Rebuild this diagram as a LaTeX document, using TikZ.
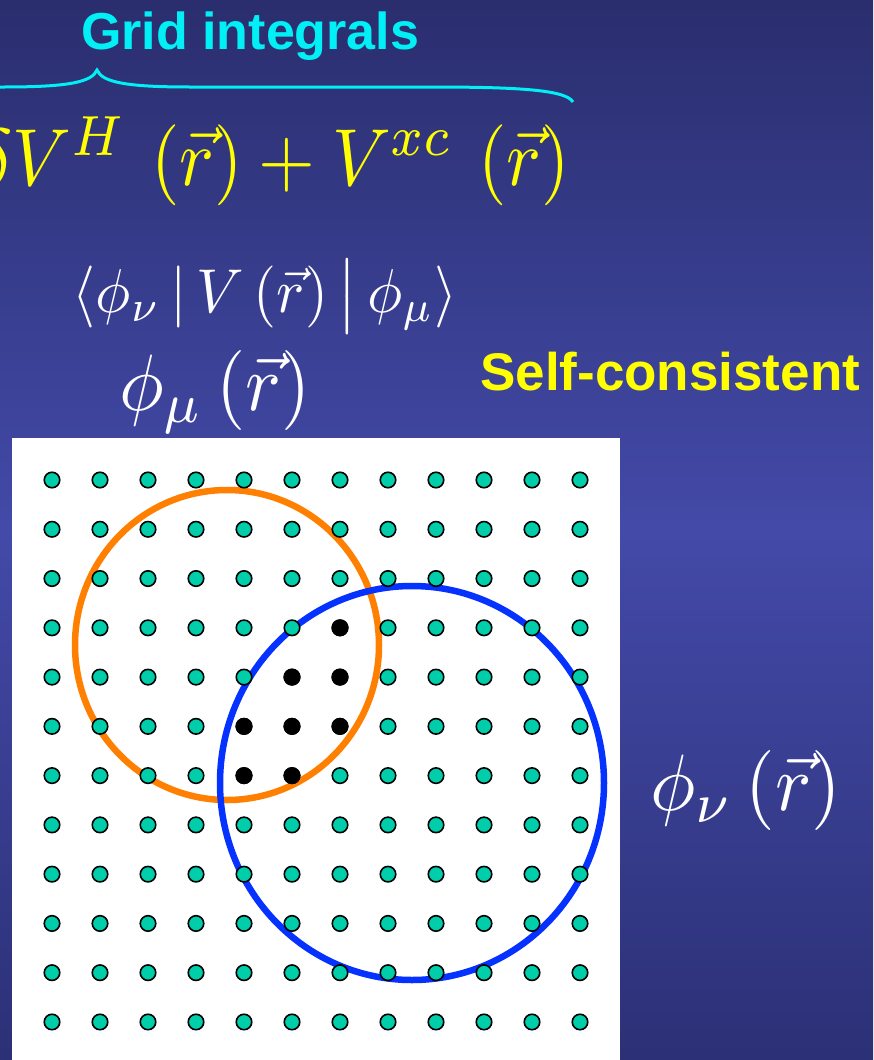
\documentclass[tikz,border=0pt]{standalone}
\usepackage{graphicx}
\usepackage{fontspec}
\setsansfont{Liberation Sans}
\definecolor{slidetop}{RGB}{42,46,110}
\definecolor{slidemid}{RGB}{67,74,168}
\definecolor{slidebot}{RGB}{44,48,118}
\definecolor{dotgreen}{RGB}{0,206,170}
\definecolor{ringorange}{RGB}{255,127,0}
\definecolor{ringblue}{RGB}{5,50,255}
\definecolor{headcyan}{RGB}{0,240,245}
\definecolor{headyellow}{RGB}{255,255,0}

\begin{document}
\begin{tikzpicture}[x=1pt,y=1pt,yscale=-1,xscale=1,
	gridpt/.style={circle,draw=black,line width=1.6,fill=dotgreen,minimum size=15.5pt,inner sep=0pt},
	hitpt/.style={circle,draw=black,line width=1.6,fill=black,minimum size=15.5pt,inner sep=0pt},
	headtext/.style={font=\sffamily\bfseries\fontsize{52}{60}\selectfont,inner sep=0pt},
	bigmath/.style={inner sep=0pt}]
	\useasboundingbox (0,0) rectangle (873,1060);
	\clip (0,0) rectangle (873,1060);
	
	%Shape: Background
	\shade [top color=slidetop,bottom color=slidebot,middle color=slidemid] (0,0) rectangle (873,1060);
	%Shape: Rectangle (grid panel)
	\fill [white] (12,438) rectangle (620,1060);
	
	%Shape: Circle (orange)
	\draw [color=ringorange,line width=6.5] (227,645) ellipse [x radius=152,y radius=155];
	%Shape: Circle (blue)
	\draw [color=ringblue,line width=6.5] (412,783) ellipse [x radius=192,y radius=197];
	
	%Grid points
	\foreach \i in {0,...,11}
		\foreach \j in {0,...,11}
			\node [gridpt] (p\i-\j) at ({52+48*\i},{480+49.27*\j}) {};
	%Points inside both rings
	\foreach \i/\j in {6/3,5/4,6/4,4/5,5/5,6/5,4/6,5/6}
		\node [hitpt] (q\i-\j) at (p\i-\j) {};
	
	%Brace
	\draw [color=headcyan,line width=3] (573,102) .. controls (566,90) and (520,87) .. (430,87) -- (190,87) .. controls (125,87) and (102,82) .. (97,70) .. controls (92,82) and (69,87) .. (4,87) -- (-60,87);
	
	% Text Node
	\draw (81,49) node (gridint) [headtext,text=headcyan,anchor=base west] {Grid integrals};
	% Text Node
	\draw (570,185) node (vpot) [bigmath,text=headyellow,anchor=base east] {\scalebox{7.3}[8.1]{$\delta V^{H}\,\left(\vec{r}\right)+V^{xc}\,\left(\vec{r}\right)$}};
	% Text Node
	\draw (265,312) node (braket) [bigmath,text=white,anchor=base] {\scalebox{5.9}[6.2]{$\langle\phi_{\nu}\,|\,V\left(\vec{r}\right)\big|\,\phi_{\mu}\rangle$}};
	% Text Node
	\draw (215,410) node (phimu) [bigmath,text=white,anchor=base] {\scalebox{7.5}[8]{$\phi_{\mu}\left(\vec{r}\right)$}};
	% Text Node
	\draw (480,390) node (selfcons) [headtext,font=\sffamily\bfseries\fontsize{53}{60}\selectfont,text=headyellow,anchor=base west] {Self-consistent};
	% Text Node
	\draw (650,810) node (phinu) [bigmath,text=white,anchor=base west] {\scalebox{7.6}[8]{$\phi_{\nu}\left(\vec{r}\right)$}};
	
\end{tikzpicture}
\end{document}
